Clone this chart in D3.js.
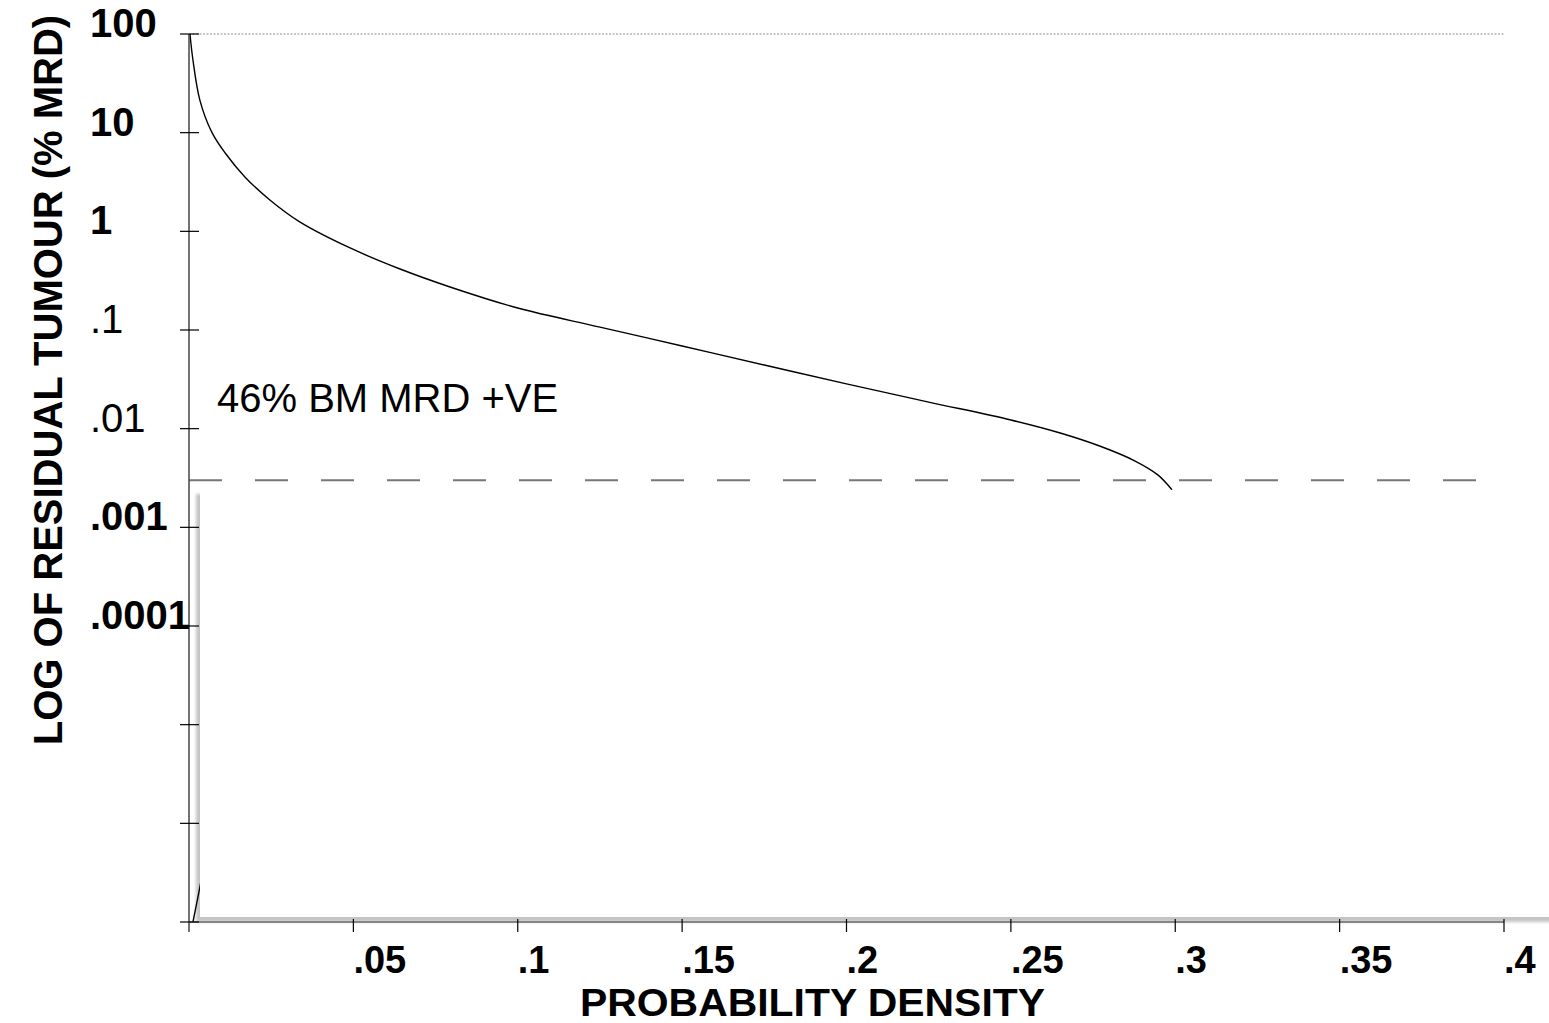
<!DOCTYPE html>
<html>
<head>
<meta charset="utf-8">
<script src="https://cdn.jsdelivr.net/npm/d3@7"></script>
<style>
  html, body { margin: 0; padding: 0; background: #fff; }
  svg { display: block; }
  text { font-family: "Liberation Sans", Arial, Helvetica, sans-serif; fill: #000; }
</style>
</head>
<body>
<svg id="chart" width="1549" height="1023"></svg>
<script>
// Residual tumour level (% MRD) against probability density
const mrdLevels = [100, 54.5, 21.4, 10, 6.22, 3.56, 2.08, 1.24, 0.678, 0.415, 0.273, 0.167, 0.107, 0.0688, 0.0442, 0.0284, 0.0186, 0.01225, 0.00904, 0.00667, 0.0047, 0.0034, 0.0024];
const densityValues = [0.0003, 0.0012, 0.0033, 0.0070, 0.011, 0.017, 0.0246, 0.0338, 0.049, 0.0642, 0.0794, 0.100, 0.125, 0.150, 0.175, 0.200, 0.225, 0.250, 0.265, 0.277, 0.2878, 0.2947, 0.299];

// lower tail of the distribution (below detection)
const tailMrd = [1e-7, 2e-7, 3e-7];
const tailDensity = [0.0012, 0.003, 0.004];

// detection threshold (dashed) and upper bound (dotted)
const detectionLimit = 0.003;
const upperLimit = 100;

const yTickValues = [100, 10, 1, 0.1, 0.01, 0.001, 0.0001, 1e-5, 1e-6, 1e-7];
const yTickLabels = ["100", "10", "1", ".1", ".01", ".001", ".0001", "", "", ""];
const xTickValues = [0.05, 0.1, 0.15, 0.2, 0.25, 0.3, 0.35, 0.4];
const xTickLabels = [".05", ".1", ".15", ".2", ".25", ".3", ".35", ".4"];

const annotation = "46% BM MRD +VE";
const xTitle = "PROBABILITY DENSITY";
const yTitle = "LOG OF RESIDUAL TUMOUR (% MRD)";

const svg = d3.select("#chart");

const x = d3.scaleLinear().domain([0, 0.4]).range([189, 1504]);
const y = d3.scaleLog().domain([1e-7, 100]).range([922, 34]);

// shaded panel shadow
const defs = svg.append("defs");
defs.append("filter").attr("id", "soft").attr("x", "-5%").attr("y", "-5%").attr("width", "110%").attr("height", "110%")
  .append("feGaussianBlur").attr("stdDeviation", 1.4);

svg.append("rect")
  .attr("x", 196).attr("y", 494)
  .attr("width", 1400).attr("height", 428)
  .attr("fill", "#c4c4c4")
  .attr("filter", "url(#soft)");

// top reference line at 100%
svg.append("line")
  .attr("x1", x(0)).attr("x2", x(0.4))
  .attr("y1", y(upperLimit)).attr("y2", y(upperLimit))
  .attr("stroke", "#8a8a8a").attr("stroke-width", 1)
  .attr("stroke-dasharray", "2,1.5");

// density curve
const line = d3.line()
  .x(d => x(d.d))
  .y(d => y(d.m))
  .curve(d3.curveCatmullRom.alpha(0.5));

const mainPts = mrdLevels.map((m, i) => ({ m, d: densityValues[i] }));
svg.append("path")
  .datum(mainPts)
  .attr("d", line)
  .attr("fill", "none").attr("stroke", "#000").attr("stroke-width", 1.4);

const tailPts = tailMrd.map((m, i) => ({ m, d: tailDensity[i] }));
svg.append("path")
  .datum(tailPts)
  .attr("d", line)
  .attr("fill", "none").attr("stroke", "#000").attr("stroke-width", 1.4);

// white panel covering the region below the detection limit
svg.append("rect")
  .attr("x", 200).attr("y", 490)
  .attr("width", 1400).attr("height", 427)
  .attr("fill", "#fff");

// detection limit
svg.append("line")
  .attr("x1", x(0)).attr("x2", 1476)
  .attr("y1", y(detectionLimit)).attr("y2", y(detectionLimit))
  .attr("stroke", "#777").attr("stroke-width", 2)
  .attr("stroke-dasharray", "33,33");

// x axis
const xAxisG = svg.append("g").attr("transform", `translate(0,${y(1e-7)})`);
xAxisG.append("line")
  .attr("x1", x(0)).attr("x2", x(0.4))
  .attr("stroke", "#666").attr("stroke-width", 1.5);
xAxisG.selectAll("line.tick")
  .data(xTickValues)
  .join("line")
  .attr("class", "tick")
  .attr("x1", d => x(d)).attr("x2", d => x(d))
  .attr("y1", -3).attr("y2", 10)
  .attr("stroke", "#000").attr("stroke-width", 1.2);
xAxisG.selectAll("text.tl")
  .data(xTickValues)
  .join("text")
  .attr("class", "tl")
  .attr("x", d => x(d))
  .attr("y", 51)
  .attr("font-size", 38)
  .attr("font-weight", "bold")
  .text((d, i) => xTickLabels[i]);

// y axis
const yAxisG = svg.append("g");
yAxisG.append("line")
  .attr("x1", x(0)).attr("x2", x(0))
  .attr("y1", y(100)).attr("y2", y(1e-7) + 10)
  .attr("stroke", "#444").attr("stroke-width", 1.5);
yAxisG.selectAll("line.tick")
  .data(yTickValues)
  .join("line")
  .attr("class", "tick")
  .attr("x1", x(0) - 9).attr("x2", x(0) + 10)
  .attr("y1", d => y(d)).attr("y2", d => y(d))
  .attr("stroke", "#000").attr("stroke-width", 1.2);
const regularTicks = new Set([0.1, 0.01]);
yAxisG.selectAll("text.tl")
  .data(yTickValues)
  .join("text")
  .attr("class", "tl")
  .attr("x", 90)
  .attr("y", d => y(d) + 3)
  .attr("font-size", 40)
  .attr("font-weight", d => regularTicks.has(d) ? "normal" : "bold")
  .text((d, i) => yTickLabels[i]);

// annotation
svg.append("text")
  .attr("x", 217).attr("y", 412)
  .attr("font-size", 40)
  .text(annotation);

// axis titles
svg.append("text")
  .attr("x", 580).attr("y", 1016)
  .attr("font-size", 38)
  .attr("font-weight", "bold")
  .attr("textLength", 465)
  .attr("lengthAdjust", "spacingAndGlyphs")
  .text(xTitle);

svg.append("text")
  .attr("transform", "translate(62,380) rotate(-90)")
  .attr("text-anchor", "middle")
  .attr("font-size", 40)
  .attr("font-weight", "bold")
  .text(yTitle);
</script>
</body>
</html>
